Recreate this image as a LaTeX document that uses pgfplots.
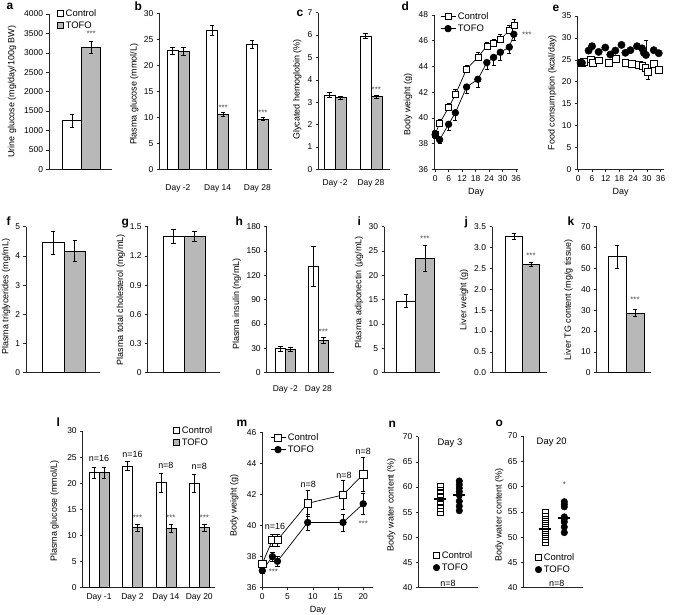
\documentclass[border=0pt]{standalone}
\usepackage{fontspec}
\setmainfont{Liberation Sans}
\usepackage{pgfplots}
\pgfplotsset{compat=1.18}

\definecolor{tofo}{gray}{0.72}

\tikzset{letter/.style={anchor=base west, font=\fontsize{12}{12}\selectfont\bfseries},
  star/.style={font=\fontsize{8}{8}\selectfont, text=black!70},
  note/.style={font=\fontsize{9}{9}\selectfont}}

\pgfplotsset{
  panel/.style={scale only axis, anchor=south west, clip=false,
    axis x line*=bottom, axis y line*=left,
    axis line style={line width=0.6bp, black!85},
    tick align=outside, major tick length=2.5bp,
    tick style={line width=0.5bp, black!85},
    ticklabel style={font=\fontsize{8.5}{9}\selectfont},
    label style={font=\fontsize{9}{10}\selectfont},
    /pgf/number format/assume math mode=true,
    /pgf/number format/1000 sep={},
    legend style={draw=none, fill=none, font=\fontsize{9.5}{10}\selectfont,
      inner sep=0pt, anchor=north west, row sep=0bp},
    legend cell align=left},
  ylab/.style 2 args={ylabel style={at={(axis description cs:#1,#2)}, anchor=center}},
  barleg/.style={legend image code/.code={\draw[##1, line width=0.5bp] (0bp,-3bp) rectangle (6bp,3bp);}},
  % bars sit at their own x (no automatic shift)
  ctrl/.style={ybar, bar shift=0pt, fill=white, draw=black, line width=0.6bp, barleg},
  tofob/.style={ybar, bar shift=0pt, fill=tofo, draw=black, line width=0.6bp, barleg},
  % error bars only, drawn on top of the bars (must come last in the options)
  errs/.style={draw=none, mark=none, forget plot, eb},
  eb/.style={error bars/.cd, y dir=both, y explicit,
    error bar style={draw=black, line width=0.5bp},
    error mark options={draw=black, rotate=90, line width=0.5bp, mark size=2.2bp}},
  ebp/.style={error bars/.cd, y dir=plus, y explicit,
    error bar style={draw=black, line width=0.5bp},
    error mark options={draw=black, rotate=90, line width=0.5bp, mark size=2bp}},
  ebm/.style={error bars/.cd, y dir=minus, y explicit,
    error bar style={draw=black, line width=0.5bp},
    error mark options={draw=black, rotate=90, line width=0.5bp, mark size=2bp}},
  cline/.style={black, line width=0.7bp, mark=square*, mark size=3bp, mark options={fill=white, line width=0.6bp}},
  tline/.style={black, line width=0.7bp, mark=*, mark size=3.3bp},
  lineleg/.style={legend image code/.code={\draw[mark repeat=2, mark phase=2, ##1] plot coordinates {(0bp,0bp) (7.5bp,0bp) (15bp,0bp)};}},
}

\begin{document}
\begin{tikzpicture}
\useasboundingbox (0,0) rectangle (685bp,-615bp);

% panel letters
\node[letter] at (3bp,-9bp) {a};
\node[letter] at (131bp,-10bp) {b};
\node[letter] at (293bp,-16bp) {c};
\node[letter] at (398bp,-10bp) {d};
\node[letter] at (549bp,-11bp) {e};
\node[letter] at (3bp,-225bp) {f};
\node[letter] at (118bp,-225bp) {g};
\node[letter] at (232bp,-225bp) {h};
\node[letter] at (354bp,-225bp) {i};
\node[letter] at (461bp,-225bp) {j};
\node[letter] at (564bp,-225bp) {k};
\node[letter] at (53bp,-426bp) {l};
\node[letter] at (233bp,-426bp) {m};
\node[letter] at (385bp,-427bp) {n};
\node[letter] at (492bp,-426bp) {o};

% a
\begin{axis}[panel, at={(49bp,-169.3bp)}, width=62.7bp, height=155.3bp,
  xmin=-32.7, xmax=30, ymin=0, ymax=4000, ytick={0,500,...,4000}, xtick=\empty,
  ylabel={Urine glucose (mg/day/100g BW)}, ylab={-0.59}{0.5},
  legend style={at={(axis description cs:0.128,1.045)}}]
\addplot[ctrl, bar width=19bp] coordinates {(-9.5,1253)};
\addplot[tofob, bar width=19bp] coordinates {(9.5,3142)};
\addplot[errs] coordinates {(-9.5,1253) +- (0,170) (9.5,3142) +- (0,146)};
\legend{Control,TOFO}
\node[star] at (axis cs:9.5,3500) {***};
\end{axis}

% b
\begin{axis}[panel, at={(159.3bp,-169.3bp)}, width=112.7bp, height=156bp,
  xmin=-0.47, xmax=2.37, ymin=0, ymax=30, ytick={0,5,...,30},
  xtick={0,1,2}, xticklabels={Day -2,Day 14,Day 28}, xtick style={draw=none},
  xticklabel style={yshift=-9bp},
  ylabel={Plasma glucose (mmol/L)}, ylab={-0.222}{0.48}]
\addplot[ctrl, bar width=11bp] coordinates {(-0.1385,22.8) (0.8615,26.7) (1.8615,24.1)};
\addplot[tofob, bar width=11bp] coordinates {(0.1385,22.7) (1.1385,10.6) (2.1385,9.7)};
\addplot[errs] coordinates {
  (-0.1385,22.8) +- (0,0.65) (0.8615,26.7) +- (0,0.95) (1.8615,24.1) +- (0,0.75)};
\addplot[errs] coordinates {
  (0.1385,22.7) +- (0,0.7) (1.1385,10.6) +- (0,0.35) (2.1385,9.7) +- (0,0.32)};
\node[star] at (axis cs:1.14,11.9) {***};
\node[star] at (axis cs:2.14,10.96) {***};
\end{axis}

% c
\begin{axis}[panel, at={(318.3bp,-169.3bp)}, width=71.7bp, height=156.6bp,
  xmin=-0.464, xmax=1.528, ymin=0, ymax=7, ytick={0,1,...,7},
  xtick={0,1}, xticklabels={Day -2,Day 28}, xtick style={draw=none},
  xticklabel style={yshift=-4bp},
  ylabel={Glycated hemoglobin (\%)}, ylab={-0.293}{0.51}]
\addplot[ctrl, bar width=11bp] coordinates {(-0.153,3.32) (0.847,5.96)};
\addplot[tofob, bar width=11bp] coordinates {(0.153,3.2) (1.153,3.25)};
\addplot[errs] coordinates {(-0.153,3.32) +- (0,0.11) (0.847,5.96) +- (0,0.11)};
\addplot[errs] coordinates {(0.153,3.2) +- (0,0.07) (1.153,3.25) +- (0,0.08)};
\node[star] at (axis cs:1.15,3.54) {***};
\end{axis}

% d
\begin{axis}[panel, at={(434bp,-169.3bp)}, width=84.3bp, height=154.3bp,
  xmin=-0.5, xmax=37, ymin=36, ymax=48, ytick={36,38,...,48}, xtick={0,6,...,36},
  xlabel={Day}, ylabel={Body weight (g)}, ylab={-0.308}{0.42}, lineleg,
  legend style={at={(axis description cs:0.071,1.032)}}]
\addplot[cline, ebp] coordinates {
  (0,38.7) +- (0,0.3) (2,39.6) +- (0,0.3) (6,40.8) +- (0,0.3) (9,41.8) +- (0,0.4)
  (14,43.8) +- (0,0.3) (19,44.7) +- (0,0.4) (23,45.6) +- (0,0.3) (26,45.8) +- (0,0.3)
  (29,46.1) +- (0,0.4) (33,46.8) +- (0,0.4) (35,47.2) +- (0,0.5)};
\addplot[tline, ebm] coordinates {
  (0,38.7) +- (0,0.3) (2,38.3) +- (0,0.3) (6,39.5) +- (0,0.5) (9,40.4) +- (0,0.6)
  (14,42.4) +- (0,0.5) (19,43.0) +- (0,0.6) (23,44.3) +- (0,0.5) (26,44.7) +- (0,0.6)
  (29,45.1) +- (0,0.6) (33,45.5) +- (0,0.5) (35,46.5) +- (0,0.5)};
\legend{Control,TOFO}
\node[star] at (axis cs:40.8,46.5) {***};
\end{axis}

% e
\begin{axis}[panel, at={(577.3bp,-169.3bp)}, width=86.7bp, height=153.3bp,
  xmin=-0.44, xmax=37.5, ymin=0, ymax=35, ytick={0,5,...,35}, xtick={0,6,...,36},
  xlabel={Day}, ylabel={Food consumption (kcal/day)}, ylab={-0.288}{0.5}]
\addplot[only marks, mark=square*, mark size=3.4bp, mark options={fill=white, draw=black, line width=0.6bp}, ebm] coordinates {
  (1.5,24.4) +- (0,0) (2.3,24.5) +- (0,0) (5.3,25.1) +- (0,0) (6.5,24.4) +- (0,0)
  (8.9,24.9) +- (0,0) (13.3,24.3) +- (0,0) (16.5,25.3) +- (0,0) (20.6,24.3) +- (0,0)
  (23.5,24.0) +- (0,0) (26.4,23.8) +- (0,0) (28,23.6) +- (0,0) (29.3,23.2) +- (0,0)
  (30.4,22.2) +- (0,1.6) (33,24.1) +- (0,0) (35.2,22.8) +- (0,0)};
\addplot[only marks, mark=*, mark size=3.7bp, black, ebp] coordinates {
  (1.0,24.3) +- (0,0) (1.6,24.3) +- (0,0) (4.5,27.1) +- (0,0) (6.0,28.1) +- (0,0)
  (8.9,26.8) +- (0,0) (11.8,27.8) +- (0,0) (14.0,26.2) +- (0,0) (16.2,27.1) +- (0,0)
  (18.9,28.4) +- (0,0) (20.6,26.6) +- (0,0) (22.8,27.2) +- (0,0) (25.7,28.1) +- (0,0)
  (27.9,27.6) +- (0,0) (28.7,26.6) +- (0,0) (29.6,26.1) +- (0,3.3) (33,27.2) +- (0,0)
  (35.2,26.5) +- (0,0)};
\end{axis}

% f
\begin{axis}[panel, at={(26bp,-372.7bp)}, width=74bp, height=146bp,
  xmin=-38, xmax=36, ymin=0, ymax=5, ytick={0,1,...,5}, xtick=\empty,
  ylabel={Plasma triglycerides (mg/mL)}, ylab={-0.27}{0.52}]
\addplot[ctrl, bar width=21.5bp] coordinates {(-10.75,4.45)};
\addplot[tofob, bar width=21.5bp] coordinates {(10.75,4.17)};
\addplot[errs] coordinates {(-10.75,4.45) +- (0,0.39) (10.75,4.17) +- (0,0.35)};
\end{axis}

% g
\begin{axis}[panel, at={(147.7bp,-372.7bp)}, width=72.3bp, height=146bp,
  xmin=-36.3, xmax=36, ymin=0, ymax=1.5, ytick={0,0.3,0.6,0.9,1.2,1.5}, xtick=\empty,
  ylabel={Plasma total cholesterol (mg/mL)}, ylab={-0.373}{0.5}]
\addplot[ctrl, bar width=21bp] coordinates {(-10.5,1.40)};
\addplot[tofob, bar width=21bp] coordinates {(10.5,1.40)};
\addplot[errs] coordinates {(-10.5,1.40) +- (0,0.07) (10.5,1.40) +- (0,0.05)};
\end{axis}

% h
\begin{axis}[panel, at={(266.7bp,-372.7bp)}, width=67.3bp, height=146bp,
  xmin=-0.562, xmax=1.471, ymin=0, ymax=180, ytick={0,30,...,180},
  xtick={0,1}, xticklabels={Day -2,Day 28}, xtick style={draw=none},
  extra x ticks={0.5}, extra x tick labels={}, extra x tick style={tick style={draw=black!85}},
  xticklabel style={yshift=-7bp},
  ylabel={Plasma insulin (ng/mL)}, ylab={-0.446}{0.47}]
\addplot[ctrl, bar width=10bp] coordinates {(-0.151,30) (0.849,131)};
\addplot[tofob, bar width=10bp] coordinates {(0.151,28.7) (1.151,40.3)};
\addplot[errs] coordinates {(-0.151,30) +- (0,3) (0.849,131) +- (0,25)};
\addplot[errs] coordinates {(0.151,28.7) +- (0,2.7) (1.151,40.3) +- (0,3.5)};
\node[star] at (axis cs:1.15,51) {***};
\end{axis}

% i
\begin{axis}[panel, at={(384bp,-372.7bp)}, width=56bp, height=146bp,
  xmin=-31.3, xmax=24.7, ymin=0, ymax=30, ytick={0,5,...,30}, xtick=\empty,
  ylabel={Plasma adiponectin (µg/mL)}, ylab={-0.446}{0.55}]
\addplot[ctrl, bar width=19bp] coordinates {(-9.5,14.75)};
\addplot[tofob, bar width=19bp] coordinates {(9.5,23.5)};
\addplot[errs] coordinates {(-9.5,14.75) +- (0,1.3) (9.5,23.5) +- (0,2.75)};
\node[star] at (axis cs:9.5,27.6) {***};
\end{axis}

% j
\begin{axis}[panel, at={(492bp,-372.7bp)}, width=54.6bp, height=146bp,
  xmin=-30.5, xmax=24.1, ymin=0, ymax=3.5, ytick={0,0.5,...,3.5}, xtick=\empty,
  yticklabel style={/pgf/number format/.cd, fixed, fixed zerofill, precision=1},
  ylabel={Liver weight (g)}, ylab={-0.513}{0.5}]
\addplot[ctrl, bar width=17bp] coordinates {(-8.5,3.27)};
\addplot[tofob, bar width=17bp] coordinates {(8.5,2.60)};
\addplot[errs] coordinates {(-8.5,3.27) +- (0,0.08) (8.5,2.60) +- (0,0.05)};
\node[star] at (axis cs:8.5,2.8) {***};
\end{axis}

% k
\begin{axis}[panel, at={(596.6bp,-372.7bp)}, width=54.4bp, height=146bp,
  xmin=-29.4, xmax=25, ymin=0, ymax=70, ytick={0,10,...,70}, xtick=\empty,
  ylabel={Liver TG content (mg/g tissue)}, ylab={-0.515}{0.5}]
\addplot[ctrl, bar width=18bp] coordinates {(-9,55.6)};
\addplot[tofob, bar width=18bp] coordinates {(9,28.7)};
\addplot[errs] coordinates {(-9,55.6) +- (0,5.7) (9,28.7) +- (0,1.7)};
\node[star] at (axis cs:9,35) {***};
\end{axis}

% l
\begin{axis}[panel, at={(82.7bp,-587.7bp)}, width=132.3bp, height=156.7bp,
  xmin=-0.488, xmax=3.47, ymin=0, ymax=30, ytick={0,5,...,30},
  xtick={0,1,2,3}, xticklabels={Day -1,Day 2,Day 14,Day 20}, xtick style={draw=none},
  ylabel={Plasma glucose (mmol/L)}, ylab={-0.212}{0.49},
  legend style={at={(axis description cs:0.683,1.045)}}]
\addplot[ctrl, bar width=10bp] coordinates {(-0.15,22.0) (0.85,23.3) (1.85,20.1) (2.85,20.0)};
\addplot[tofob, bar width=10bp] coordinates {(0.15,22.0) (1.15,11.5) (2.15,11.4) (3.15,11.5)};
\addplot[errs] coordinates {
  (-0.15,22.0) +- (0,1.0) (0.85,23.3) +- (0,0.85) (1.85,20.1) +- (0,1.9) (2.85,20.0) +- (0,1.75)};
\addplot[errs] coordinates {
  (0.15,22.0) +- (0,1.1) (1.15,11.5) +- (0,0.6) (2.15,11.4) +- (0,0.7) (3.15,11.5) +- (0,0.7)};
\legend{Control,TOFO}
\node[note] at (axis cs:0,24.8) {n=16};
\node[note] at (axis cs:1,25.6) {n=16};
\node[note] at (axis cs:2,23.4) {n=8};
\node[note] at (axis cs:3,23.2) {n=8};
\node[star] at (axis cs:1.15,13.3) {***};
\node[star] at (axis cs:2.15,13.3) {***};
\node[star] at (axis cs:3.15,13.3) {***};
\end{axis}

% m
\begin{axis}[panel, at={(262.3bp,-587.7bp)}, width=111bp, height=155.4bp,
  xmin=0, xmax=22, ymin=36, ymax=46, ytick={36,38,...,46}, xtick={0,5,...,20},
  xlabel={Day}, ylabel={Body weight (g)}, ylab={-0.252}{0.53}, lineleg,
  legend style={at={(axis description cs:0.069,1.008)}}]
\addplot[cline, mark size=3.6bp, eb] coordinates {
  (0,37.55) +- (0,0.2) (2,39.07) +- (0,0.4) (3,39.07) +- (0,0.4) (9,41.43) +- (0,0.85)
  (16,41.97) +- (0,0.95) (20,43.3) +- (0,1.1)};
\addplot[tline, eb] coordinates {
  (0,37.1) +- (0,0.2) (2,38.0) +- (0,0.3) (3,37.7) +- (0,0.3) (9,40.2) +- (0,0.5)
  (16,40.2) +- (0,0.55) (20,41.4) +- (0,0.7)};
\legend{Control,TOFO}
\node[note] at (axis cs:2.5,39.93) {n=16};
\node[note] at (axis cs:9.1,42.65) {n=8};
\node[note] at (axis cs:16.2,43.25) {n=8};
\node[note] at (axis cs:20,44.75) {n=8};
\node[star] at (axis cs:2.2,37.0) {***};
\node[star] at (axis cs:20,40.1) {***};
\end{axis}

% n
\begin{axis}[panel, at={(418.3bp,-587.7bp)}, width=60bp, height=151bp,
  xmin=0, xmax=60, ymin=40, ymax=70, ytick={40,45,...,70}, xtick=\empty,
  ylabel={Body water content (\%)}, ylab={-0.45}{0.55},
  legend style={at={(axis description cs:0.245,0.256)}}]
\addplot[only marks, mark=square, mark size=3.2bp, mark options={line width=0.5bp, black}] coordinates {
  (21.7,60.2) (21.7,59.4) (21.7,58.7) (21.7,58.0) (21.7,57.2) (21.7,56.5) (21.7,55.8) (21.7,55.1)};
\addplot[only marks, mark=*, mark size=3.3bp, black] coordinates {
  (41,61.2) (41,60.5) (41,59.8) (41,59.1) (41,58.4) (41,57.2) (41,56.2) (41,55.3)};
\addplot[forget plot, only marks, mark=-, mark size=6bp, mark options={line width=2bp, black}] coordinates {
  (21.7,57.6) (41,58.5)};
\legend{Control,TOFO}
\node[font=\fontsize{9.5}{10}\selectfont] at (axis cs:31.7,68.7) {Day 3};
\node[note] at (axis cs:29.7,40.9) {n=8};
\end{axis}

% o
\begin{axis}[panel, at={(523.3bp,-587.7bp)}, width=60bp, height=151.7bp,
  xmin=0, xmax=60, ymin=40, ymax=70, ytick={40,45,...,70}, xtick=\empty,
  ylabel={Body water content (\%)}, ylab={-0.40}{0.48},
  legend style={at={(axis description cs:0.195,0.242)}}]
\addplot[only marks, mark=square, mark size=3.2bp, mark options={line width=0.5bp, black}] coordinates {
  (21.7,54.8) (21.7,54.0) (21.7,53.2) (21.7,52.4) (21.7,51.5) (21.7,50.6) (21.7,49.7) (21.7,49.0)};
\addplot[only marks, mark=*, mark size=3.3bp, black] coordinates {
  (41,57.0) (41,56.5) (41,56.0) (41,54.0) (41,53.6) (41,53.0) (41,52.0) (41,50.9)};
\addplot[forget plot, only marks, mark=-, mark size=6bp, mark options={line width=2bp, black}] coordinates {
  (21.7,51.7) (41,53.8)};
\legend{Control,TOFO}
\node[font=\fontsize{9.5}{10}\selectfont] at (axis cs:28.4,68.8) {Day 20};
\node[star] at (axis cs:41,60.4) {*};
\node[note] at (axis cs:33.4,40.9) {n=8};
\end{axis}
\end{tikzpicture}
\end{document}
